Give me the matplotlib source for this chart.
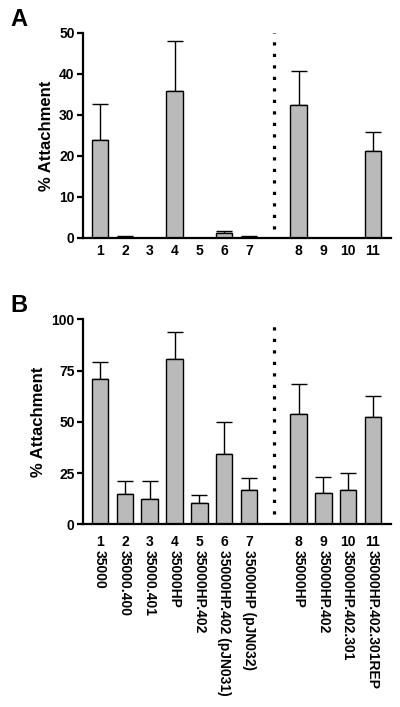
import matplotlib.pyplot as plt
import numpy as np

plt.rcParams['font.family'] = ['Liberation Sans', 'DejaVu Sans']
plt.rcParams['font.weight'] = 'bold'

# Data
lanes = ['1', '2', '3', '4', '5', '6', '7', '8', '9', '10', '11']
strains = ['35000', '35000.400', '35000.401', '35000HP', '35000HP.402',
           '35000HP.402 (pJN031)', '35000HP (pJN032)', '35000HP',
           '35000HP.402', '35000HP.402.301', '35000HP.402.301REP']

attach_a = [24.0, 0.3, 0.0, 35.8, 0.0, 1.2, 0.3, 32.5, 0.0, 0.0, 21.3]
err_a = [8.7, 0.1, 0.0, 12.2, 0.0, 0.5, 0.1, 8.3, 0.0, 0.0, 4.6]

attach_b = [70.9, 14.6, 12.3, 80.8, 10.5, 34.3, 16.7, 54.0, 15.1, 16.9, 52.2]
err_b = [8.4, 6.7, 9.0, 12.9, 3.6, 15.7, 5.9, 14.3, 8.1, 8.0, 10.2]

yticks_a = [0, 10, 20, 30, 40, 50]
yticks_b = [0, 25, 50, 75, 100]

# x positions: a blank slot between lane 7 and lane 8
idx = np.arange(len(lanes))
xpos = idx + 1 + (idx >= 7)
divider_x = 8

bar_color = '#bababa'

fig = plt.figure(figsize=(4, 7.07), dpi=100)
ax_a = fig.add_axes([0.2075, 0.6634, 0.77, 0.29])
ax_b = fig.add_axes([0.2075, 0.2584, 0.77, 0.29])


def draw_panel(ax, vals, errs, yticks, div_bottom, tick_pad):
    ax.bar(xpos, vals, width=0.67, color=bar_color, edgecolor='black',
           linewidth=1.0, zorder=2)
    ax.errorbar(xpos, vals, yerr=[np.zeros(len(vals)), errs], fmt='none',
                ecolor='black', elinewidth=1.0, capsize=5.5, capthick=1.0,
                zorder=1)
    ax.vlines(divider_x, div_bottom, yticks[-1], colors='black',
              linestyles=(0, (1, 2.6)), linewidth=2.3)
    ax.set_xlim(0.31, 12.73)
    ax.set_ylim(0, yticks[-1])
    ax.set_yticks(yticks)
    ax.set_xticks(xpos)
    ax.set_xticklabels(lanes)
    for s in ['top', 'right']:
        ax.spines[s].set_visible(False)
    for s in ['left', 'bottom']:
        ax.spines[s].set_linewidth(1.6)
    ax.tick_params(axis='y', length=4, width=1.6, labelsize=10, pad=2)
    ax.tick_params(axis='x', length=0, labelsize=10, pad=tick_pad)
    ax.set_ylabel('% Attachment', fontsize=12, fontweight='bold', labelpad=4)


draw_panel(ax_a, attach_a, err_a, yticks_a, 2.3, 4)
draw_panel(ax_b, attach_b, err_b, yticks_b, 5, 7.5)

# strain names under panel B
for x, name in zip(xpos, strains):
    ax_b.text(x, -0.125, name, transform=ax_b.get_xaxis_transform(),
              rotation=270, ha='center', va='top', fontsize=10,
              fontweight='bold')

fig.text(0.025, 0.963, 'A', fontsize=17, fontweight='bold', va='baseline')
fig.text(0.025, 0.5587, 'B', fontsize=17, fontweight='bold', va='baseline')

fig.savefig('out.png', dpi=100)
